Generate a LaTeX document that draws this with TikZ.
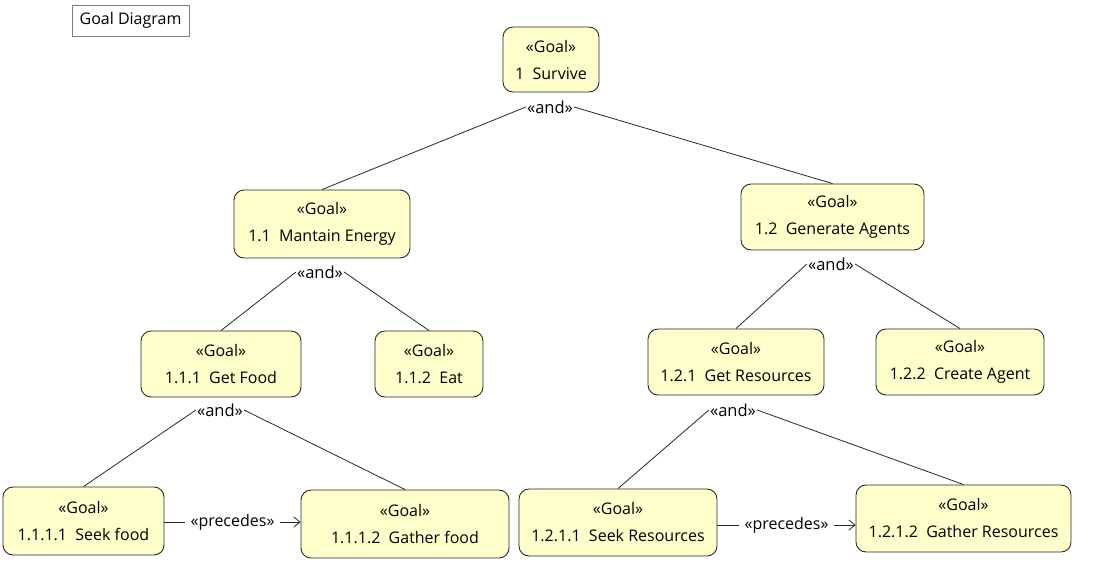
\documentclass[tikz,border=0pt]{standalone}
\usepackage{fontspec}
\setmainfont{Open Sans}
\usetikzlibrary{arrows.meta,calc}
\definecolor{goalfill}{RGB}{255,255,204}
\definecolor{edgecol}{RGB}{40,40,40}
\begin{document}
\begin{tikzpicture}[x=1pt,y=1pt,
  goal/.style={draw=edgecol, fill=goalfill, rounded corners=10pt, line width=0.9pt,
    align=center, inner sep=0pt, font=\fontsize{16}{27}\selectfont},
  andlbl/.style={font=\fontsize{16.5}{18}\selectfont, inner sep=1pt},
  conn/.style={draw=edgecol, line width=0.8pt},
  preclbl/.style={font=\fontsize{16}{18}\selectfont, fill=white, inner xsep=6pt, inner ysep=1pt},
  titlebox/.style={draw=black!50, line width=0.9pt, inner sep=0pt, font=\fontsize{16}{18}\selectfont}
]
\useasboundingbox (0,0) rectangle (1099,-576);

\node[titlebox, minimum width=117, minimum height=31] (title) at (130.5,-20.5) {Goal Diagram};

\node[goal, minimum width=96, minimum height=65] (s1) at (551,-59.5) {«Goal»\\1~~Survive};
\node[goal, minimum width=176, minimum height=68] (s11) at (322,-224) {«Goal»\\1.1~~Mantain Energy};
\node[goal, minimum width=183, minimum height=66] (s12) at (832.5,-217) {«Goal»\\1.2~~Generate Agents};
\node[goal, minimum width=160, minimum height=66] (s111) at (221,-364) {«Goal»\\1.1.1~~Get Food};
\node[goal, minimum width=108, minimum height=66] (s112) at (429,-364) {«Goal»\\1.1.2~~Eat};
\node[goal, minimum width=176, minimum height=66] (s121) at (736,-362) {«Goal»\\1.2.1~~Get Resources};
\node[goal, minimum width=168, minimum height=66] (s122) at (960,-362) {«Goal»\\1.2.2~~Create Agent};
\node[goal, minimum width=161, minimum height=68] (s1111) at (83.5,-521) {«Goal»\\1.1.1.1~~Seek food};
\node[goal, minimum width=208, minimum height=68] (s1112) at (405,-524) {«Goal»\\1.1.1.2~~Gather food};
\node[goal, minimum width=198, minimum height=67] (s1211) at (618,-522.5) {«Goal»\\1.2.1.1~~Seek Resources};
\node[goal, minimum width=215, minimum height=67] (s1212) at (963.5,-518.5) {«Goal»\\1.2.1.2~~Gather Resources};

\node[andlbl] (a1) at (550,-107) {«and»};
\node[andlbl] (a11) at (320,-272) {«and»};
\node[andlbl] (a12) at (831,-264) {«and»};
\node[andlbl] (a111) at (220,-410) {«and»};
\node[andlbl] (a121) at (733,-410) {«and»};

\draw[conn] (a1.west) -- (s11.north);
\draw[conn] (a1.east) -- (s12.north);
\draw[conn] (a11.west) -- (s111.north);
\draw[conn] (a11.east) -- (s112.north);
\draw[conn] (a12.west) -- (s121.north);
\draw[conn] (a12.east) -- (s122.north);
\draw[conn] (a111.west) -- (s1111.north);
\draw[conn] (a111.east) -- (s1112.north);
\draw[conn] (a121.west) -- (s1211.north);
\draw[conn] (a121.east) -- (s1212.north);

\coordinate (p1e) at ($(s1111.east)+(0,-1)$);
\coordinate (p2e) at ($(s1211.east)+(0,-2.5)$);
\draw[conn, -{Straight Barb[length=6pt,width=10pt]}] (p1e) -- (p1e -| s1112.west)
  node[preclbl, midway] (pr1) {«precedes»};
\draw[conn, -{Straight Barb[length=6pt,width=10pt]}] (p2e) -- (p2e -| s1212.west)
  node[preclbl, midway] (pr2) {«precedes»};
\end{tikzpicture}
\end{document}
